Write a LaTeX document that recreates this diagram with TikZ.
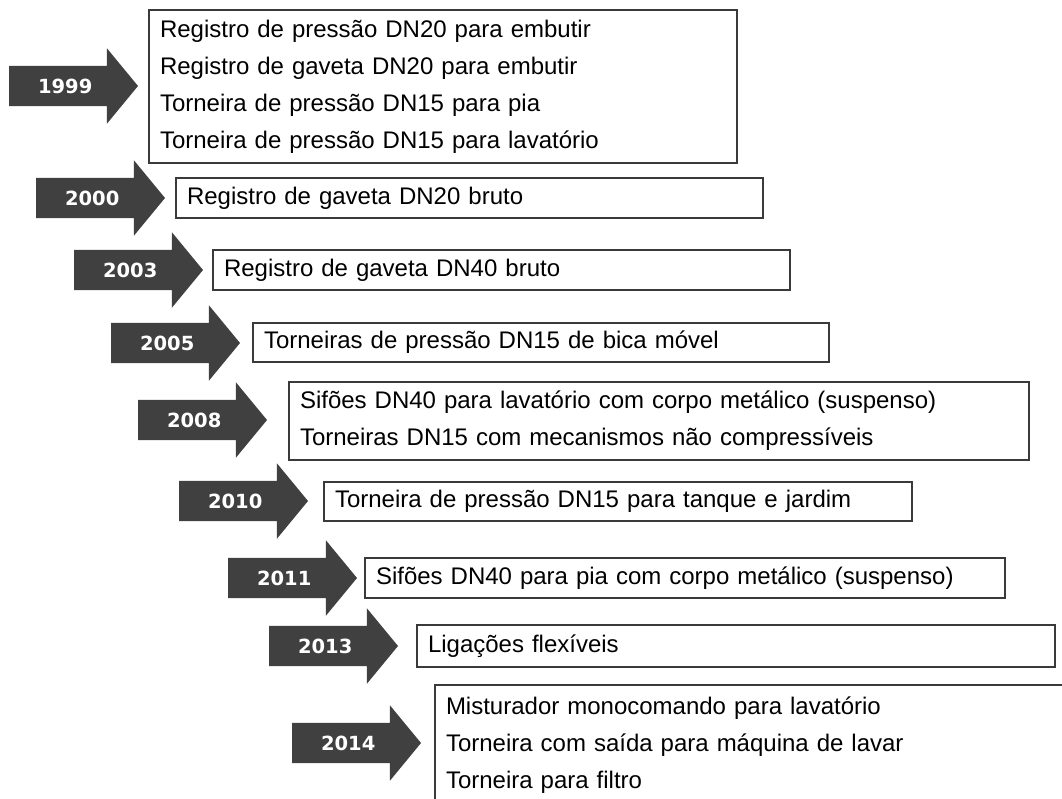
\documentclass[tikz,border=0pt]{standalone}
\usepackage{fontspec}
\setmainfont{Liberation Sans}
\newfontfamily\yearfamily{DejaVu Sans}
\usetikzlibrary{shapes.arrows}
\definecolor{arrowgray}{RGB}{64,64,64}
\definecolor{framegray}{RGB}{58,58,58}
\tikzset{
  yeararrow/.style={single arrow, fill=arrowgray, text=white,
    font=\yearfamily\bfseries\fontsize{19.5}{20}\selectfont,
    minimum height=129, minimum width=75, single arrow head extend=17.5,
    single arrow tip angle=101, text height=14, text depth=0,
    inner ysep=13, inner xsep=0, outer sep=0, anchor=tip},
  itembox/.style={draw=framegray, line width=2, anchor=north west,
    align=left, inner xsep=11, inner ysep=0, outer sep=0,
    font=\fontsize{24}{37}\selectfont},
}

\begin{document}
\begin{tikzpicture}[x=1pt,y=-1pt]
\clip (0,0) rectangle (1062,798);

% year arrows
\node[yeararrow] (a1999) at (138,86) {1999};
\node[yeararrow] (a2000) at (165,198) {2000};
\node[yeararrow] (a2003) at (203,270) {2003};
\node[yeararrow] (a2005) at (240,343) {2005};
\node[yeararrow] (a2008) at (267,420) {2008};
\node[yeararrow] (a2010) at (308,501) {2010};
\node[yeararrow] (a2011) at (357,578) {2011};
\node[yeararrow] (a2013) at (398,646) {2013};
\node[yeararrow] (a2014) at (421,743) {2014};

% product boxes
\node[itembox, text width=566, minimum height=153] (b1999) at (149,10)
  {Registro de pressão DN20 para embutir\\
   Registro de gaveta DN20 para embutir\\
   Torneira de pressão DN15 para pia\\
   Torneira de pressão DN15 para lavatório};
\node[itembox, text width=565, minimum height=40] (b2000) at (176,178)
  {Registro de gaveta DN20 bruto};
\node[itembox, text width=555, minimum height=40] (b2003) at (213,250)
  {Registro de gaveta DN40 bruto};
\node[itembox, text width=554, minimum height=39] (b2005) at (253,323)
  {Torneiras de pressão DN15 de bica móvel};
\node[itembox, text width=718, minimum height=78] (b2008) at (289,382)
  {Sifões DN40 para lavatório com corpo metálico (suspenso)\\
   Torneiras DN15 com mecanismos não compressíveis};
\node[itembox, text width=566, minimum height=39] (b2010) at (324,482)
  {Torneira de pressão DN15 para tanque e jardim};
\node[itembox, text width=618, minimum height=40] (b2011) at (365,558)
  {Sifões DN40 para pia com corpo metálico (suspenso)};
\node[itembox, text width=616, minimum height=42] (b2013) at (417,625)
  {Ligações flexíveis};
\node[itembox, text width=628, minimum height=121] (b2014) at (435,685)
  {Misturador monocomando para lavatório\\
   Torneira com saída para máquina de lavar\\
   Torneira para filtro};

\end{tikzpicture}
\end{document}
